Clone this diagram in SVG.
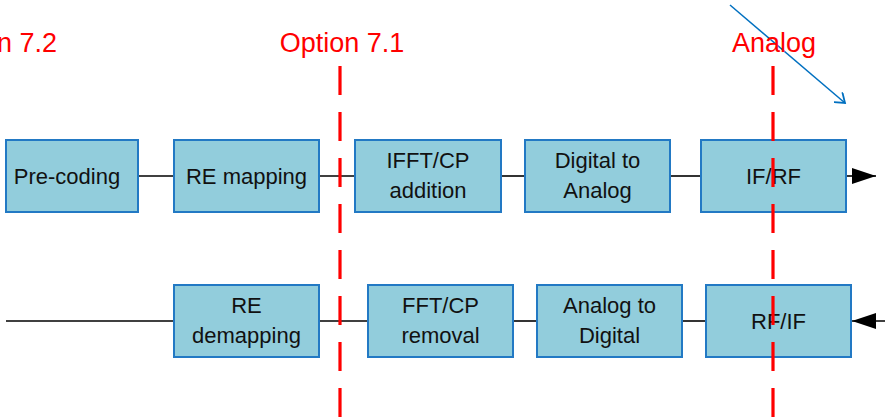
<svg xmlns="http://www.w3.org/2000/svg" width="885" height="418" viewBox="0 0 885 418">
  <style>
    .box rect { fill: #92CDDC; stroke: #2279C4; stroke-width: 2; }
    .box text { font-family: "Liberation Sans", Arial, sans-serif; font-size: 22px; fill: #111111; text-anchor: middle; }
    .link { stroke: #000000; stroke-width: 1.6; fill: none; }
    .split { stroke: #FF0000; stroke-width: 3.2; stroke-dasharray: 29 17; fill: none; }
    .label { font-family: "Liberation Sans", Arial, sans-serif; font-size: 27px; fill: #FF0000; }
  </style>
  <defs>
    <marker id="solidHead" viewBox="0 0 24 16" refX="24" refY="8" markerWidth="24" markerHeight="16" markerUnits="userSpaceOnUse" orient="auto">
      <path d="M0,0 L24,8 L0,16 Z" fill="#000000"/>
    </marker>
    <marker id="openHead" viewBox="0 0 14 14" refX="12" refY="7" markerWidth="14" markerHeight="14" markerUnits="userSpaceOnUse" orient="auto">
      <path d="M3,0.5 L12,7 L3,13.5" fill="none" stroke="#0070C0" stroke-width="1.8"/>
    </marker>
  </defs>

  <rect width="885" height="418" fill="#FFFFFF"/>

  <!-- connectors -->
  <g id="connectors">
    <!-- downlink chain -->
    <line class="link" x1="138" y1="176" x2="174" y2="176"/>
    <line class="link" x1="319" y1="176" x2="355" y2="176"/>
    <line class="link" x1="501" y1="176" x2="525" y2="176"/>
    <line class="link" x1="670" y1="176" x2="701" y2="176"/>
    <line class="link" x1="846" y1="176" x2="876" y2="176" marker-end="url(#solidHead)"/>
    <!-- uplink chain -->
    <line class="link" x1="885" y1="321" x2="852" y2="321" marker-end="url(#solidHead)"/>
    <line class="link" x1="682" y1="321" x2="706" y2="321"/>
    <line class="link" x1="513" y1="321" x2="537" y2="321"/>
    <line class="link" x1="319" y1="321" x2="368" y2="321"/>
    <line class="link" x1="6" y1="321" x2="174" y2="321"/>
    <!-- direction arrow -->
    <line x1="730" y1="5" x2="845" y2="103" stroke="#0070C0" stroke-width="1.5" marker-end="url(#openHead)"/>
  </g>

  <!-- downlink blocks -->
  <g id="precoding" class="box">
    <rect x="6" y="140" width="132" height="72"/>
    <text x="67" y="184">Pre-coding</text>
  </g>
  <g id="re-mapping" class="box">
    <rect x="174" y="140" width="145" height="72"/>
    <text x="246.5" y="184">RE mapping</text>
  </g>
  <g id="ifft-cp" class="box">
    <rect x="355" y="140" width="146" height="72"/>
    <text x="428" y="168">IFFT/CP</text>
    <text x="428" y="198">addition</text>
  </g>
  <g id="dac" class="box">
    <rect x="525" y="140" width="145" height="72"/>
    <text x="597.5" y="168">Digital to</text>
    <text x="597.5" y="198">Analog</text>
  </g>
  <g id="if-rf" class="box">
    <rect x="701" y="140" width="145" height="72"/>
    <text x="773.5" y="184">IF/RF</text>
  </g>

  <!-- uplink blocks -->
  <g id="re-demapping" class="box">
    <rect x="174" y="285" width="145" height="72"/>
    <text x="246.5" y="313">RE</text>
    <text x="246.5" y="343">demapping</text>
  </g>
  <g id="fft-cp" class="box">
    <rect x="368" y="285" width="145" height="72"/>
    <text x="440.5" y="313">FFT/CP</text>
    <text x="440.5" y="343">removal</text>
  </g>
  <g id="adc" class="box">
    <rect x="537" y="285" width="145" height="72"/>
    <text x="609.5" y="313">Analog to</text>
    <text x="609.5" y="343">Digital</text>
  </g>
  <g id="rf-if" class="box">
    <rect x="706" y="285" width="145" height="72"/>
    <text x="778.5" y="329">RF/IF</text>
  </g>

  <!-- functional split lines; the Option 7.2 label runs past the left edge -->
  <g id="splits">
    <line class="split" x1="340" y1="66" x2="340" y2="418"/>
    <line class="split" x1="773" y1="66" x2="773" y2="418"/>
    <text class="label" x="57" y="52" text-anchor="end">Option 7.2</text>
    <text class="label" x="342" y="52" text-anchor="middle">Option 7.1</text>
    <text class="label" x="774" y="52" text-anchor="middle">Analog</text>
  </g>
</svg>
